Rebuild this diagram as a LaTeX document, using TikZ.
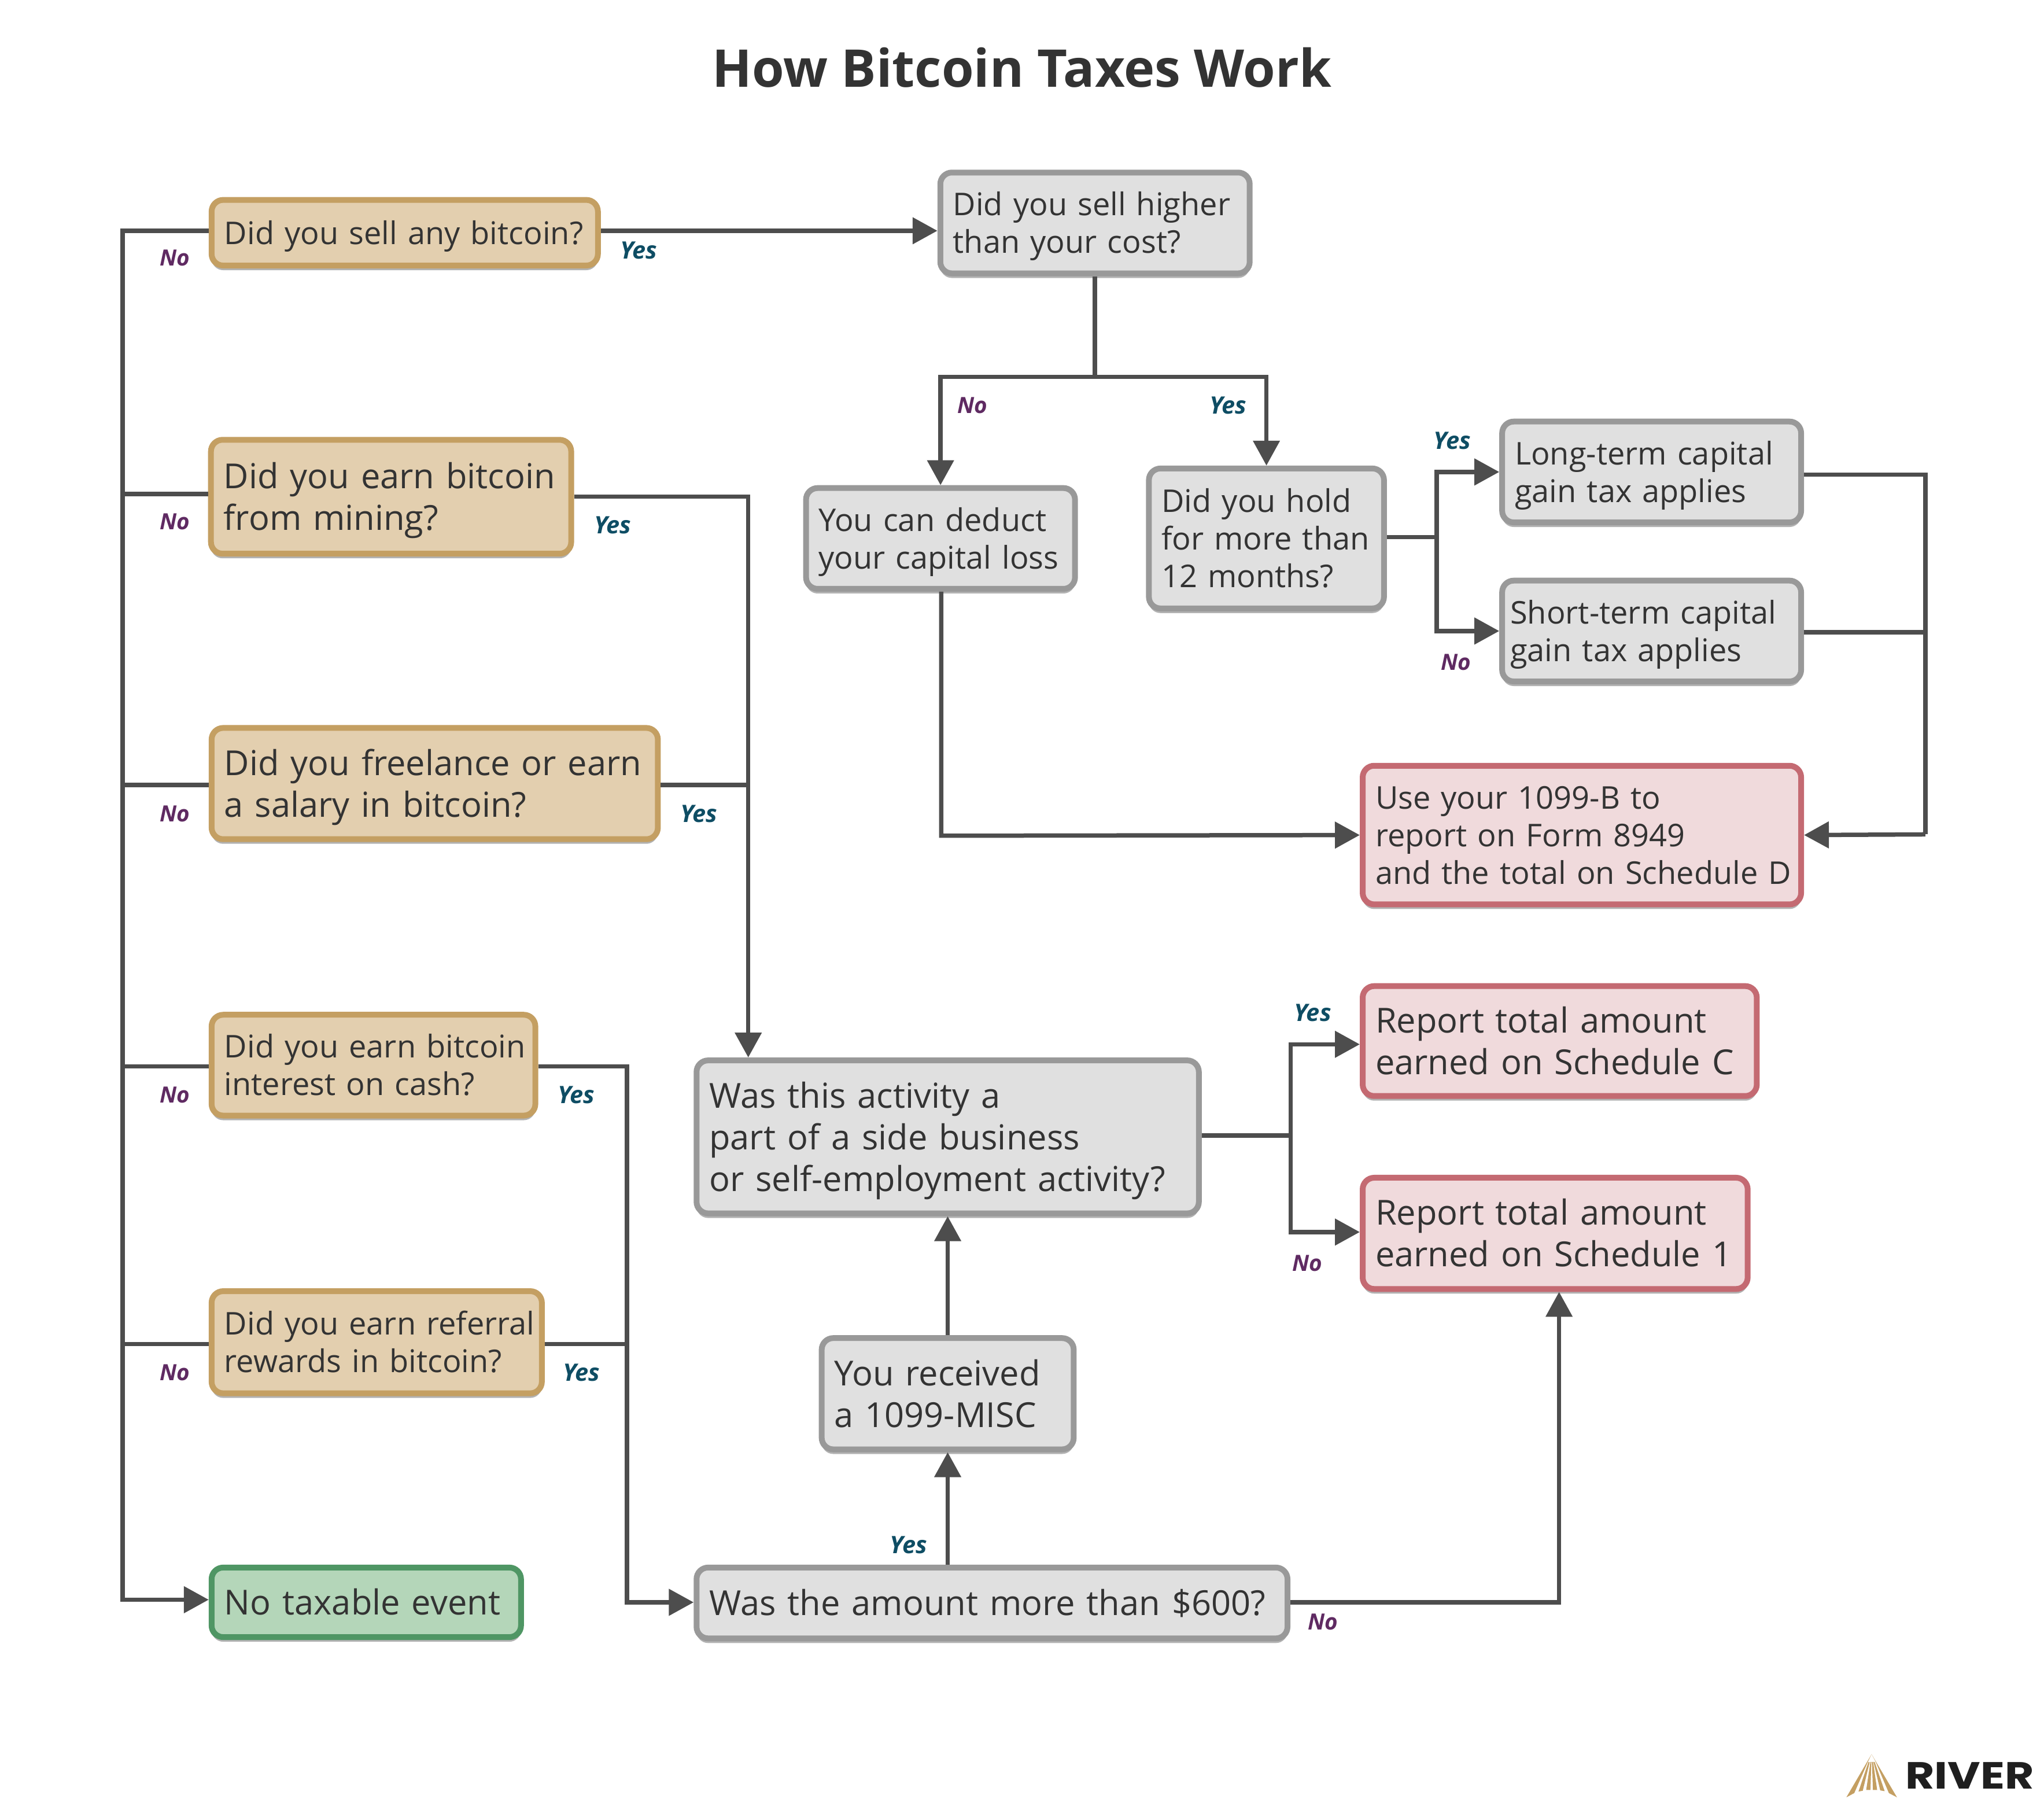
\documentclass[tikz,border=0pt]{standalone}
\usepackage{fontspec}
\usepackage{graphicx}
\setmainfont{Open Sans}
\newfontfamily\logofont{Poppins}
\usetikzlibrary{arrows.meta,shadows}

\definecolor{linegray}{HTML}{4D4D4D}
\definecolor{textgray}{HTML}{333333}
\definecolor{tanfill}{HTML}{E3CFAF}
\definecolor{tanline}{HTML}{C49F62}
\definecolor{grayfill}{HTML}{E0E0E0}
\definecolor{grayline}{HTML}{999999}
\definecolor{pinkfill}{HTML}{F0DADC}
\definecolor{pinkline}{HTML}{C46A72}
\definecolor{greenfill}{HTML}{B4D6B9}
\definecolor{greenline}{HTML}{4F9664}
\definecolor{nocolor}{HTML}{5F2A62}
\definecolor{yescolor}{HTML}{0E4D64}
\definecolor{logogold}{HTML}{C49F62}

\tikzset{
	taxbox/.style={draw,line width=0.1cm,rounded corners=0.2cm,inner xsep=0.07cm,inner ysep=0pt,
		align=left,text=textgray,execute at begin node={\leftskip=0.15cm\rule{0pt}{1.08em}},
		execute at end node={\rule[-0.35em]{0pt}{0pt}},
		drop shadow={shadow xshift=0cm,shadow yshift=-0.08cm,opacity=0.3,fill=black}},
	dims/.style 2 args={text width=#1*0.022538cm-0.2cm,minimum height=#2*0.022538cm-0.06cm},
	smalltext/.style={font=\fontsize{15.4}{18.5}\selectfont},
	largetext/.style={font=\fontsize{16.95}{20.5}\selectfont},
	tanbox/.style={taxbox,fill=tanfill,draw=tanline},
	graybox/.style={taxbox,fill=grayfill,draw=grayline},
	pinkbox/.style={taxbox,fill=pinkfill,draw=pinkline},
	greenbox/.style={taxbox,fill=greenfill,draw=greenline},
	conn/.style={draw=linegray,line width=0.075cm},
	nolabel/.style={text=nocolor,inner sep=0pt,font=\fontsize{11}{12}\selectfont\bfseries\itshape},
	yeslabel/.style={text=yescolor,inner sep=0pt,font=\fontsize{11.8}{12}\selectfont\bfseries\itshape}
}

\begin{document}
\begin{tikzpicture}[x=0.022538cm,y=-0.022538cm,>={Triangle[length=0.43cm,width=0.45cm]}]
	\useasboundingbox (0,0) rectangle (1568,1388);

	\node[text=textgray,font=\fontsize{25.6}{32}\selectfont\bfseries] (title) at (784,52) {How Bitcoin Taxes Work};

	% questions on the left
	\node[tanbox,smalltext,dims={299}{53}] (sell) at (310.5,178.5) {Did you sell any bitcoin?};
	\node[tanbox,largetext,dims={279}{90}] (mining) at (300,381) {Did you earn bitcoin\\from mining?};
	\node[tanbox,largetext,dims={345}{88}] (freelance) at (333.5,601) {Did you freelance or earn\\a salary in bitcoin?};
	\node[tanbox,smalltext,dims={251}{80}] (interest) at (286.5,817) {Did you earn bitcoin\\interest on cash?};
	\node[tanbox,smalltext,dims={256}{81}] (referral) at (289,1029.5) {Did you earn referral\\rewards in bitcoin?};
	\node[greenbox,largetext,dims={240}{56}] (notax) at (281,1229) {No taxable event};

	% sales branch
	\node[graybox,smalltext,dims={240}{80}] (higher) at (840,171) {Did you sell higher\\than your cost?};
	\node[graybox,smalltext,dims={209}{80}] (deduct) at (721.5,413) {You can deduct\\your capital loss};
	\node[graybox,smalltext,dims={183}{110}] (hold) at (971.5,413) {Did you hold\\for more than\\12 months?};
	\node[graybox,smalltext,dims={232}{80}] (longterm) at (1267,362) {Long-term capital\\gain tax applies};
	\node[graybox,smalltext,dims={232}{80}] (shortterm) at (1267,484) {\hspace*{-0.08cm}Short-term capital\\\hspace*{-0.08cm}gain tax applies};
	\node[pinkbox,smalltext,dims={339}{109}] (useform) at (1213.5,640.5) {Use your 1099-B to\\report on Form 8949\\and the total on Schedule D};

	% income branch
	\node[graybox,largetext,dims={388}{120}] (side) at (727,872) {Was this activity a\\part of a side business\\or self-employment activity?};
	\node[pinkbox,largetext,dims={305}{87}] (schedc) at (1196.5,798.5) {Report total amount\\earned on Schedule C};
	\node[pinkbox,largetext,dims={298}{88}] (schedone) at (1193,946) {Report total amount\\earned on Schedule 1};
	\node[graybox,largetext,dims={196}{88}] (misc) at (727,1069) {You received\\a 1099-MISC};
	\node[graybox,largetext,dims={456}{57}] (amount) at (761,1229.5) {Was the amount more than \$600?};

	% junctions
	\coordinate (notrunk) at (94,177);
	\coordinate (notrunkend) at (94,1227);
	\coordinate (split) at (840,289);
	\coordinate (holdfork) at (1102,412);
	\coordinate (holdup) at (1102,362);
	\coordinate (holddown) at (1102,484);
	\coordinate (righttop) at (1477,364);
	\coordinate (rightend) at (1477,640);
	\coordinate (midtop) at (574,381);
	\coordinate (lowtop) at (481,818);
	\coordinate (lowend) at (481,1229);
	\coordinate (sidefork) at (990,871);
	\coordinate (sideup) at (990,801);
	\coordinate (sidedown) at (990,945);
	\coordinate (lossturn) at (722,641);
	\coordinate (amountturn) at (1196,1229);

	% connectors
	\draw[conn,->] (sell.west |- notrunk) -- (notrunk) -- (notrunkend) -- (notax.west |- notrunkend);
	\foreach \boxname/\liney in {mining/379,freelance/602,interest/818,referral/1031}
		\draw[conn] (\boxname.west |- 0,\liney) -- (94,\liney);

	\draw[conn,->] (sell.east |- notrunk) -- (higher.west |- notrunk);
	\draw[conn] (higher.south) -- (split);
	\draw[conn,->] (split) -| (deduct.north);
	\draw[conn,->] (split) -| (hold.north);
	\draw[conn] (hold.east |- holdfork) -- (holdfork);
	\draw[conn,->] (holdfork) -- (holdup) -- (longterm.west);
	\draw[conn,->] (holdfork) -- (holddown) -- (shortterm.west);
	\draw[conn] (longterm.east |- righttop) -- (righttop) -- (rightend);
	\draw[conn] (shortterm.east |- 0,485) -- (1477,485);
	\draw[conn,->] (rightend) -- (useform.east);
	\draw[conn,->] (deduct.south -| lossturn) -- (lossturn) -- (useform.west);

	\draw[conn,->] (mining.east |- midtop) -- (midtop) -- (side.north -| midtop);
	\draw[conn] (freelance.east |- 0,602) -- (574,602);
	\draw[conn,->] (interest.east |- lowtop) -- (lowtop) -- (lowend) -- (amount.west |- lowend);
	\draw[conn] (referral.east |- 0,1031) -- (481,1031);

	\draw[conn,->] (amount.north -| misc.south) -- (misc.south);
	\draw[conn,->] (misc.north) -- (side.south);
	\draw[conn,->] (amount.east |- amountturn) -- (amountturn) -- (schedone.south -| amountturn);
	\draw[conn] (side.east |- sidefork) -- (sidefork);
	\draw[conn,->] (sidefork) -- (sideup) -- (schedc.west |- sideup);
	\draw[conn,->] (sidefork) -- (sidedown) -- (schedone.west |- sidedown);

	% labels
	\foreach \labx/\laby [count=\n] in {134/198,134/400,134/624,134/840,134/1053,746/311,1117/508,1003/969,1015/1244}
		\node[nolabel] (no\n) at (\labx,\laby) {No};
	\foreach \labx/\laby [count=\n] in {490/192,470/403,536/624,442/840,446/1053,942/311,1114/338,1007/777,697/1185}
		\node[yeslabel] (yes\n) at (\labx,\laby) {Yes};

	% logo
	\begin{scope}[shift={(1375.5,1308.9)},x=0.00333cm,y=-0.00333cm]
		\fill[logogold] (408,248) -- (277,472) -- (318,450) -- (390,285) -- cycle;
		\fill[logogold] (340,442) -- (362,438) -- (398,290) -- (392,288) -- cycle;
		\fill[logogold] (380,434) -- (402,434) -- (407,288) -- (402,288) -- cycle;
		\fill[logogold] (415,434) -- (437,434) -- (416,288) -- (410,288) -- cycle;
		\fill[logogold] (453,436) -- (476,440) -- (424,288) -- (418,288) -- cycle;
		\fill[logogold] (408,248) -- (540,472) -- (498,450) -- (428,285) -- cycle;
	\end{scope}
	\node[text=black!88,inner sep=0pt,font=\fontsize{18.6}{20}\logofont\bfseries\selectfont] (river) at (1511,1362) {\scalebox{1.185}[1]{RIVER}};
\end{tikzpicture}
\end{document}
